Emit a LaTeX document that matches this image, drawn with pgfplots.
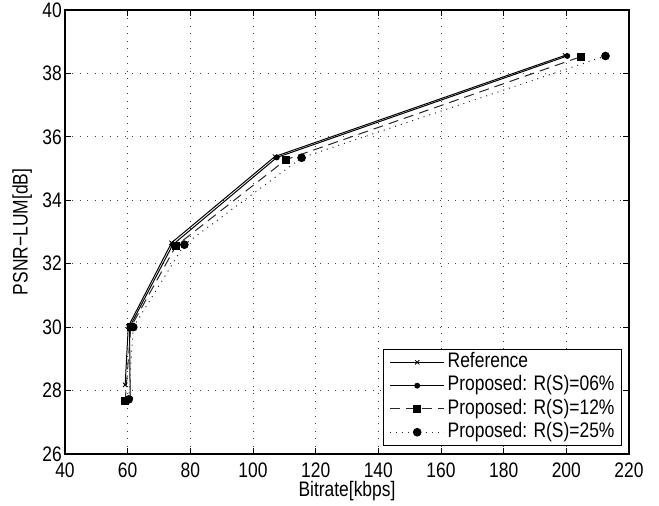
\documentclass[border=0pt]{standalone}
\usepackage{fontspec}
\setmainfont{Liberation Sans}[FakeStretch=0.83]
\usepackage{pgfplots}
\pgfplotsset{compat=1.18}

\begin{document}
\begin{tikzpicture}
\begin{axis}[
    scale only axis,
    width=564bp, height=444bp,
    xmin=40, xmax=220, ymin=26, ymax=40,
    xtick={40,60,...,220}, ytick={26,28,...,40},
    font=\fontsize{21bp}{24bp}\selectfont,
    tick label style={font=\fontsize{21bp}{24bp}\selectfont},
    /pgf/number format/assume math mode=true,
    xticklabel style={anchor=center, yshift=-16bp},
    yticklabel style={inner xsep=3bp},
    tick align=inside, tick pos=both,
    major tick length=6bp,
    axis line style={line width=1.2bp},
    every tick/.style={black, line width=0.9bp},
    grid=major,
    major grid style={black!75, line width=0.9bp, dash pattern=on 0.9bp off 6.6bp},
    xlabel={Bitrate[kbps]}, ylabel={PSNR−LUM[dB]},
    xlabel style={at={(axis description cs:0.5,-0.083)}, anchor=center},
    ylabel style={at={(axis description cs:-0.076,0.5)}, anchor=center},
    legend cell align=left,
    legend style={at={(1,0)}, anchor=south east, xshift=-7bp, yshift=8bp,
        draw=black, line width=1bp, fill=white, inner xsep=4bp, inner ysep=2bp,
        row sep=0.8bp,
        nodes={inner xsep=3bp, inner ysep=1.5bp, text height=15bp, text depth=4.5bp},
        font=\fontsize{21bp}{24bp}\selectfont},
    legend image code/.code={\path (0bp,0bp); \draw[mark repeat=2,mark phase=2,#1]
        plot coordinates {(2bp,0bp) (29bp,0bp) (56bp,0bp)};},
]
\addplot[black, line width=1bp, mark=x, mark size=3bp, mark options={solid, line width=0.8bp}]
  coordinates {(59.2,28.18) (60.2,30.02) (74.0,32.66) (107.0,35.38) (199.6,38.57)};
\addplot[black, line width=1bp, mark=*, mark size=2.4bp, mark options={solid}]
  coordinates {(60.8,27.75) (60.6,30.0) (74.4,32.6) (107.6,35.35) (200.3,38.55)};
\addplot[black!85, line width=1bp, dash pattern=on 10bp off 6bp, mark=square*, mark size=3.6bp, mark options={solid, black}]
  coordinates {(59.2,27.66) (61.0,30.0) (75.4,32.56) (110.5,35.28) (204.7,38.53)};
\addplot[black!85, line width=1bp, dash pattern=on 1bp off 5bp, mark=*, mark size=3.8bp, mark options={solid, black}]
  coordinates {(60.3,27.72) (61.8,30.0) (78.1,32.6) (115.5,35.34) (212.5,38.55)};
\legend{Reference, {Proposed: R(S)=06\%}, {Proposed: R(S)=12\%}, {Proposed: R(S)=25\%}}
\coordinate (ll) at (rel axis cs:0,0);
\coordinate (ur) at (rel axis cs:1,1);
\end{axis}
\pgfresetboundingbox
\path[use as bounding box] ([xshift=-65bp,yshift=-52bp]ll) rectangle ([xshift=30bp,yshift=10bp]ur);
\end{tikzpicture}
\end{document}
